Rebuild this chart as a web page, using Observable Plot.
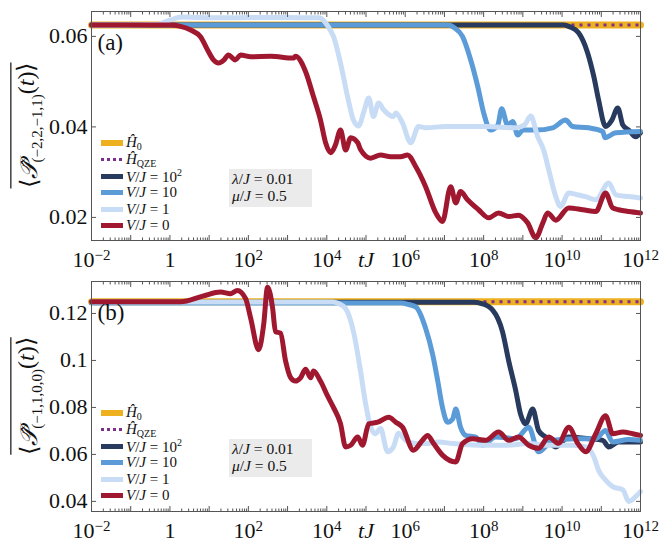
<!DOCTYPE html>
<html><head><meta charset="utf-8">
<script src="https://cdn.jsdelivr.net/npm/d3@7"></script>
<script src="https://cdn.jsdelivr.net/npm/@observablehq/plot@0.6"></script>
<style>
body{margin:0;background:#fff;}
#wrap{position:relative;width:660px;height:542px;font-family:"Liberation Serif","Times New Roman",serif;color:#111;}
.panel{position:absolute;left:0;}
.legend{position:absolute;left:101px;font-size:15px;}
.row{display:flex;align-items:center;height:16.5px;white-space:nowrap;}
.sw{display:inline-block;width:22px;margin-right:3px;}
.box{position:absolute;left:229px;width:80px;height:36px;padding:1px 0 1px 3px;background:#ebebeb;font-size:15.5px;line-height:17px;white-space:nowrap;}
sub{font-size:10px;vertical-align:-3px;}
sup{font-size:10px;vertical-align:6px;}
</style></head>
<body><div id="wrap"></div>
<script>
// ---- data: [log10(tJ), value] ----
const decades = [-2,-1,0,1,2,3,4,5,6,7,8,9,10,11,12];
const yTicksA = [0.02, 0.04, 0.06];
const yTicksB = [0.04, 0.06, 0.08, 0.1, 0.12];

const A_H0  = [[-2,0.0625],[12,0.0625]];
const A_QZE = [[-2,0.0625],[12,0.0625]];
const A_V100 = [[-2,0.0625],[10.05,0.0625],[10.2,0.0621],[10.42,0.0608],[10.65,0.0564],[10.81,0.0511],[10.93,0.046],[11.11,0.0401],[11.27,0.0415],[11.42,0.0442],[11.55,0.0404],[11.70,0.0393],[11.88,0.0378],[12,0.0387]];
const A_V10 = [[-2,0.0625],[7.1,0.0625],[7.25,0.0619],[7.46,0.06],[7.67,0.0548],[7.85,0.0489],[8.0,0.0431],[8.18,0.0393],[8.36,0.0404],[8.46,0.044],[8.61,0.0404],[8.74,0.0412],[8.87,0.0382],[9.0,0.0393],[9.33,0.0393],[9.76,0.0398],[10.09,0.0415],[10.27,0.0401],[10.68,0.0398],[11.04,0.039],[11.09,0.0376],[11.37,0.0387],[12,0.039]];
const A_V1 = [[-2,0.0625],[-0.3,0.0627],[0.0,0.0636],[0.3,0.0643],[0.7,0.0642],[1.5,0.0641],[2.5,0.0642],[3.5,0.0641],[3.8,0.0641],[3.95,0.0632],[4.08,0.0615],[4.17,0.06],[4.35,0.0541],[4.53,0.0467],[4.68,0.0415],[4.81,0.0402],[4.95,0.0435],[5.07,0.0464],[5.19,0.0423],[5.32,0.0453],[5.45,0.0438],[5.70,0.0423],[5.76,0.0431],[5.93,0.0409],[6.14,0.0365],[6.34,0.0401],[6.52,0.0398],[7.03,0.0401],[8.05,0.0401],[8.82,0.0398],[9.05,0.0405],[9.20,0.0424],[9.38,0.0378],[9.53,0.0349],[9.66,0.0305],[9.84,0.0246],[9.96,0.0224],[10.17,0.0254],[10.40,0.025],[10.60,0.0246],[10.86,0.0239],[11.19,0.0276],[11.37,0.025],[11.70,0.0246],[12,0.0243]];
const A_V0 = [[-2,0.0625],[0.0,0.0625],[0.27,0.0622],[0.53,0.0614],[0.78,0.0599],[0.96,0.057],[1.11,0.0548],[1.24,0.0541],[1.38,0.0548],[1.49,0.0559],[1.67,0.0548],[1.80,0.0559],[2.06,0.0555],[2.57,0.0556],[3.15,0.0552],[3.20,0.0556],[3.46,0.0522],[3.66,0.0467],[3.84,0.0415],[3.97,0.0365],[4.10,0.0343],[4.22,0.036],[4.35,0.0393],[4.48,0.0349],[4.61,0.0376],[4.79,0.0365],[4.86,0.035],[5.12,0.0331],[5.37,0.0338],[5.63,0.0334],[5.88,0.0334],[6.06,0.0338],[6.27,0.0312],[6.52,0.0268],[6.78,0.021],[6.95,0.0191],[7.16,0.0268],[7.29,0.0232],[7.41,0.0257],[7.59,0.0239],[7.87,0.0217],[8.13,0.0199],[8.38,0.021],[8.64,0.0202],[8.89,0.0205],[9.12,0.0188],[9.33,0.0155],[9.51,0.0188],[9.63,0.021],[9.84,0.0194],[10.17,0.0221],[10.53,0.0217],[10.86,0.0213],[11.11,0.0254],[11.29,0.0221],[11.44,0.0217],[11.70,0.0213],[12,0.021]];

const B_H0  = [[-2,0.125],[12,0.125]];
const B_QZE = [[-2,0.125],[12,0.125]];
const B_V100 = [[-2,0.1248],[7.75,0.1248],[7.95,0.1242],[8.23,0.1214],[8.48,0.1123],[8.64,0.0997],[8.82,0.087],[8.94,0.0772],[9.07,0.073],[9.25,0.0793],[9.40,0.0702],[9.58,0.0674],[9.84,0.0632],[10.17,0.0674],[10.68,0.0667],[11.04,0.066],[11.19,0.0632],[11.44,0.0653],[12,0.0653]];
const B_V10 = [[-2,0.1245],[5.9,0.1245],[6.09,0.1238],[6.27,0.1228],[6.52,0.1137],[6.70,0.1025],[6.83,0.0912],[6.95,0.08],[7.08,0.0737],[7.21,0.0751],[7.29,0.0793],[7.41,0.0716],[7.54,0.0681],[7.80,0.0674],[7.97,0.0639],[8.31,0.0674],[8.82,0.0667],[9.15,0.0716],[9.40,0.0611],[9.76,0.066],[10.35,0.0667],[10.86,0.0667],[11.11,0.0702],[11.29,0.0653],[11.70,0.0663],[12,0.066]];
const B_V1 = [[-2,0.1249],[4.15,0.1249],[4.3,0.1242],[4.48,0.1221],[4.68,0.1123],[4.86,0.0955],[4.99,0.0816],[5.12,0.0716],[5.24,0.0688],[5.37,0.071],[5.55,0.0611],[5.70,0.0632],[5.83,0.069],[6.01,0.066],[6.27,0.0646],[6.52,0.0646],[6.85,0.0653],[7.21,0.0646],[7.87,0.0639],[8.56,0.0639],[9.15,0.0646],[9.66,0.0639],[10.27,0.0639],[10.60,0.0632],[10.81,0.059],[10.93,0.0533],[11.11,0.0491],[11.29,0.0463],[11.55,0.0449],[11.70,0.04],[11.88,0.0421],[12,0.0442]];
const B_V0 = [[-2,0.125],[0.27,0.125],[0.86,0.1275],[1.29,0.1291],[1.55,0.1284],[1.72,0.1298],[1.93,0.1263],[2.06,0.1179],[2.26,0.1046],[2.39,0.1152],[2.49,0.1312],[2.62,0.1221],[2.69,0.1123],[2.82,0.1116],[2.95,0.0997],[3.08,0.0926],[3.20,0.0912],[3.33,0.0926],[3.46,0.0962],[3.59,0.0926],[3.66,0.0955],[3.84,0.0912],[4.02,0.0849],[4.17,0.08],[4.35,0.0731],[4.48,0.0632],[4.61,0.0639],[4.79,0.0674],[4.91,0.0639],[5.07,0.073],[5.30,0.0737],[5.58,0.0758],[5.76,0.0737],[5.93,0.0716],[6.21,0.0618],[6.44,0.066],[6.57,0.0681],[6.72,0.0647],[6.95,0.0597],[7.29,0.0568],[7.46,0.0646],[7.72,0.0667],[8.05,0.066],[8.38,0.0695],[8.64,0.066],[8.89,0.0674],[9.15,0.0639],[9.40,0.0626],[9.66,0.0674],[9.91,0.0647],[10.17,0.0716],[10.40,0.0647],[10.60,0.0611],[10.86,0.0688],[11.11,0.0765],[11.29,0.0688],[11.55,0.0695],[11.80,0.0688],[12,0.0681]];

const colors = {h0:"#EDB120", qze:"#7E2F8E", v100:"#283a5d", v10:"#5b9bd8", v1:"#c8ddf5", v0:"#a0182f"};
const SERIF = '"Liberation Serif", "Times New Roman", serif';

const pts = arr => arr.map(([e, v]) => ({t: Math.pow(10, e), v}));
const minors = [];
for (let e = -2; e < 12; e++) for (let k = 2; k <= 9; k++) minors.push(k * Math.pow(10, e));

function xLabel(d) {
  const e = Math.round(Math.log10(d));
  if (e === 0) return "1";
  if (e === 5) return "tJ";
  if (e % 2 === 0) return "10^" + (e < 0 ? "\u2212" + (-e) : e);
  return "";
}

function panel(cfg) {
  const series = [
    {d: cfg.h0, c: colors.h0, w: 7},
    {d: cfg.qze, c: colors.qze, w: 3, dash: "3,5", cap: "butt"},
    {d: cfg.v100, c: colors.v100, w: 5},
    {d: cfg.v10, c: colors.v10, w: 5},
    {d: cfg.v1, c: colors.v1, w: 5},
    {d: cfg.v0, c: colors.v0, w: 5}
  ];
  const marks = series.map(s => Plot.line(pts(s.d), {
    x: "t", y: "v", stroke: s.c, strokeWidth: s.w, strokeDasharray: s.dash,
    strokeLinecap: s.cap || "round", curve: "monotone-x"
  }));
  const dec = decades.map(e => Math.pow(10, e));
  const common = {label: null, stroke: "#555", fontFamily: SERIF};
  marks.push(
    Plot.frame({stroke: "#555", strokeWidth: 1}),
    Plot.axisX(dec, {...common, anchor: "bottom", tickSize: -5, tickPadding: 16, tickFormat: xLabel}),
    Plot.axisX(dec, {...common, anchor: "top", tickSize: -5, tickFormat: () => ""}),
    Plot.axisX(minors, {...common, anchor: "bottom", tickSize: -2.5, tickFormat: () => ""}),
    Plot.axisX(minors, {...common, anchor: "top", tickSize: -2.5, tickFormat: () => ""}),
    Plot.axisY(cfg.yTicks, {...common, anchor: "left", tickSize: -5, tickPadding: 9, tickFormat: d => String(d)}),
    Plot.axisY(cfg.yTicks, {...common, anchor: "right", tickSize: -5, tickFormat: () => ""}),
    Plot.text([cfg.tag], {text: d => d, frameAnchor: "top-left", dx: 6, dy: 22, lineAnchor: "top", textAnchor: "start", fontSize: 23, fontFamily: SERIF})
  );
  return Plot.plot({
    width: 660, height: cfg.height,
    marginTop: 11, marginBottom: cfg.height - 11 - cfg.frameH, marginLeft: 91, marginRight: 20,
    x: {type: "log", domain: [1e-2, 1e12], axis: null},
    y: {domain: cfg.yDomain, axis: null},
    style: {fontFamily: SERIF, fontSize: "22px", background: "white", overflow: "visible", color: "#111"},
    marks
  });
}

function finish(svgEl, cfg) {
  const svg = d3.select(svgEl);
  svg.selectAll('g[aria-label="x-axis tick label"] text').each(function() {
    const s = this.textContent;
    const t = d3.select(this);
    if (s.startsWith("10^")) {
      t.text("");
      t.append("tspan").text("10");
      t.append("tspan").attr("dy", "-0.48em").style("font-size", "15px").text(s.slice(3));
    } else if (s === "tJ") {
      t.style("font-style", "italic");
    }
  });
  const cy = 11 + cfg.frameH / 2;
  const g = svg.append("g").attr("transform", `translate(37,${cy}) rotate(-90)`);
  const txt = g.append("text").attr("text-anchor", "middle").style("font-size", "24px").style("font-family", SERIF).attr("fill", "#111");
  txt.append("tspan").text("\u27E8");
  txt.append("tspan").style("font-style", "italic").text("\uD835\uDCAB\u0302");
  txt.append("tspan").attr("dy", "0.35em").style("font-size", "15px").text(cfg.sub);
  txt.append("tspan").attr("dy", "-0.35em").text("(");
  txt.append("tspan").style("font-style", "italic").text("t");
  txt.append("tspan").text(")\u27E9");
  const bb = txt.node().getBBox();
  g.append("line").attr("x1", bb.x).attr("x2", bb.x + bb.width).attr("y1", bb.y - 2).attr("y2", bb.y - 2)
    .attr("stroke", "#111").attr("stroke-width", 1.2);
}

const wrap = document.getElementById("wrap");
const cfgs = [
  {tag: "(a)", height: 270, frameH: 229, top: 0, yDomain: [0.0149, 0.0655], yTicks: yTicksA,
   h0: A_H0, qze: A_QZE, v100: A_V100, v10: A_V10, v1: A_V1, v0: A_V0, sub: "(\u22122,2,\u22121,1)"},
  {tag: "(b)", height: 272, frameH: 230, top: 270, yDomain: [0.0357, 0.1336], yTicks: yTicksB,
   h0: B_H0, qze: B_QZE, v100: B_V100, v10: B_V10, v1: B_V1, v0: B_V0, sub: "(\u22121,1,0,0)"}
];

const legendItems = [
  {c: colors.h0, h: 6, label: '<i>Ĥ</i><sub>0</sub>'},
  {c: colors.qze, h: 3, dot: true, label: '<i>Ĥ</i><sub>QZE</sub>'},
  {c: colors.v100, h: 5, label: '<i>V</i>/<i>J</i> = 10<sup>2</sup>'},
  {c: colors.v10, h: 5, label: '<i>V</i>/<i>J</i> = 10'},
  {c: colors.v1, h: 5, label: '<i>V</i>/<i>J</i> = 1'},
  {c: colors.v0, h: 5, label: '<i>V</i>/<i>J</i> = 0'}
];

cfgs.forEach(cfg => {
  const div = document.createElement("div");
  div.className = "panel";
  div.style.top = cfg.top + "px";
  const svg = panel(cfg);
  div.appendChild(svg);
  wrap.appendChild(div);
  finish(svg, cfg);

  const lg = document.createElement("div");
  lg.className = "legend";
  lg.style.top = (cfg.top + 135) + "px";
  lg.innerHTML = legendItems.map(it => {
    const bg = it.dot ? `background:repeating-linear-gradient(90deg, ${it.c} 0 3px, transparent 3px 6px)` : `background:${it.c}`;
    return `<div class="row"><span class="sw" style="height:${it.h}px;${bg}"></span><span>${it.label}</span></div>`;
  }).join("");
  wrap.appendChild(lg);

  const box = document.createElement("div");
  box.className = "box";
  box.style.top = (cfg.top + 169) + "px";
  box.innerHTML = '<div><i>λ</i>/<i>J</i> = 0.01</div><div><i>μ</i>/<i>J</i> = 0.5</div>';
  wrap.appendChild(box);
});
</script>
</body></html>
